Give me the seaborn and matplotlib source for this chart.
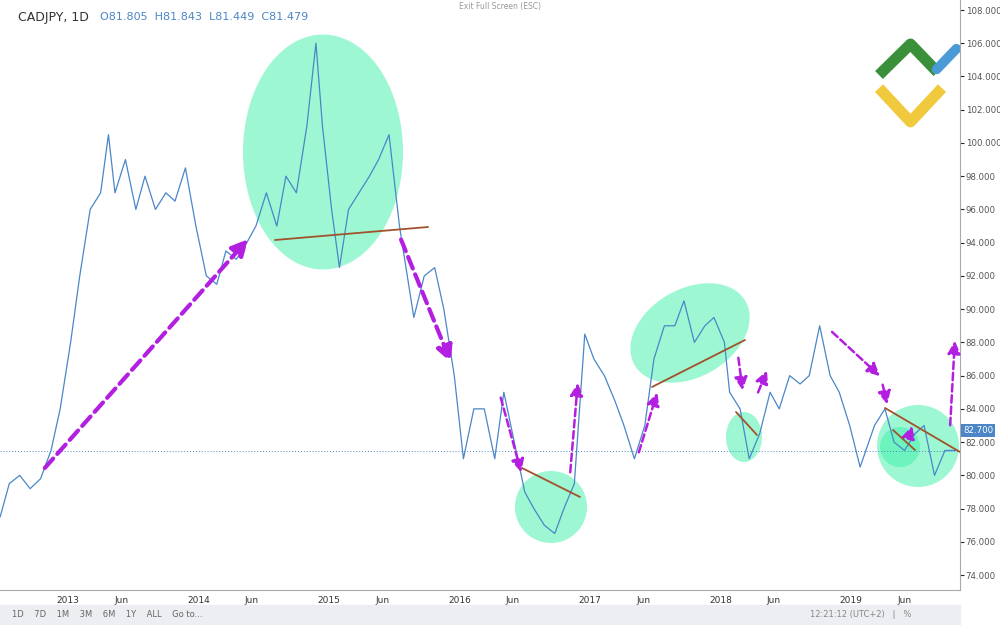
import matplotlib.pyplot as plt
import numpy as np
import seaborn as sns
import pandas as pd

# approximate CADJPY daily-close path (decimal year, price)
years = [2012.48, 2012.55, 2012.63, 2012.71, 2012.79, 2012.87, 2012.94, 2013.02, 2013.09, 2013.17, 2013.25, 2013.31,
         2013.36, 2013.44, 2013.52, 2013.59, 2013.67, 2013.75, 2013.82, 2013.90, 2013.98, 2014.06,
         2014.14, 2014.21, 2014.29, 2014.37, 2014.44, 2014.52, 2014.60, 2014.67, 2014.75, 2014.83,
         2014.90, 2014.95, 2015.02, 2015.08, 2015.15, 2015.23, 2015.31, 2015.38, 2015.46, 2015.54,
         2015.58, 2015.65, 2015.73, 2015.81, 2015.88, 2015.96, 2016.03, 2016.11, 2016.19, 2016.27,
         2016.34, 2016.42, 2016.50, 2016.57, 2016.65, 2016.73, 2016.80, 2016.88, 2016.96, 2017.03,
         2017.11, 2017.19, 2017.26, 2017.34, 2017.42, 2017.49, 2017.57, 2017.65, 2017.72, 2017.80,
         2017.88, 2017.95, 2018.03, 2018.07, 2018.15, 2018.22, 2018.30, 2018.38, 2018.45, 2018.53,
         2018.61, 2018.68, 2018.76, 2018.84, 2018.91, 2018.99, 2019.07, 2019.18, 2019.26, 2019.33,
         2019.41, 2019.49, 2019.56, 2019.64, 2019.72, 2019.80]
prices = [77.5, 79.5, 80.0, 79.2, 79.8, 81.5, 84.0, 88.0, 92.0, 96.0, 97.0, 100.5,
          97.0, 99.0, 96.0, 98.0, 96.0, 97.0, 96.5, 98.5, 95.0, 92.0,
          91.5, 93.5, 93.0, 94.0, 95.0, 97.0, 95.0, 98.0, 97.0, 101.0,
          106.0, 101.0, 96.0, 92.5, 96.0, 97.0, 98.0, 99.0, 100.5, 95.0,
          93.0, 89.5, 92.0, 92.5, 90.0, 86.0, 81.0, 84.0, 84.0, 81.0,
          85.0, 82.0, 79.0, 78.0, 77.0, 76.5, 78.0, 79.5, 88.5, 87.0,
          86.0, 84.5, 83.0, 81.0, 83.0, 87.0, 89.0, 89.0, 90.5, 88.0,
          89.0, 89.5, 88.0, 85.0, 84.0, 81.0, 82.5, 85.0, 84.0, 86.0,
          85.5, 86.0, 89.0, 86.0, 85.0, 83.0, 80.5, 83.0, 84.0, 82.0,
          81.5, 82.5, 83.0, 80.0, 81.5, 81.5]
tick_years = [2013, 2014, 2015, 2016, 2017, 2018, 2019]
price_ticks = list(range(74, 110, 2))
last_close = 81.479


def px(x, y):
    # screen pixel -> (year, price) for annotations
    return 2013 + (x - 68) / 130.5, 108 - (y - 10) / 16.62


sns.set_style("white")
fig = plt.figure(figsize=(10, 6.25), dpi=100)
ax = fig.add_axes([0, 35 / 625, 0.96, 590 / 625])

df = pd.DataFrame({"year": years, "price": prices})
sns.lineplot(data=df, x="year", y="price", ax=ax, color="#4a86c8", linewidth=0.9)

x0, _ = px(0, 0)
x1, _ = px(960, 0)
ax.set_xlim(x0, x1)
ax.set_ylim(px(0, 590)[1], px(0, 0)[1])
ax.set_xlabel("")
ax.set_ylabel("")

# ellipses (centre px, width px, height px, angle deg)
ells = [((323, 152), 160, 235, 0), ((690, 333), 128, 88, 30), ((744, 437), 36, 50, 0),
        ((551, 507), 72, 72, 0), ((918, 446), 82, 82, 0), ((900, 447), 40, 40, 0)]
t = np.linspace(0, 2 * np.pi, 100)
for (cx, cy), w, h, a in ells:
    r = np.radians(a)
    ex = w / 2 * np.cos(t)
    ey = h / 2 * np.sin(t)
    X = cx + ex * np.cos(r) + ey * np.sin(r)
    Y = cy - ex * np.sin(r) + ey * np.cos(r)
    xs, ys = px(X, Y)
    ax.fill(xs, ys, color="#3ef0a8", alpha=0.5, lw=0, zorder=0)

for (a, b, c, d) in [(275, 240, 428, 227), (652, 387, 745, 340), (522, 468, 580, 497),
                     (736, 412, 757, 435), (885, 408, 960, 452), (893, 430, 915, 450)]:
    p, q = px(a, b), px(c, d)
    ax.plot([p[0], q[0]], [p[1], q[1]], color="#a0522d", lw=1.3, zorder=3)

arrows = [(43, 470, 250, 237, 3), (400, 237, 452, 365, 3), (500, 395, 522, 475, 1.8),
          (570, 475, 578, 380, 1.8), (638, 455, 658, 390, 1.8), (738, 355, 743, 393, 1.8),
          (757, 395, 768, 368, 1.8), (830, 330, 882, 378, 1.8), (882, 382, 888, 407, 1.8),
          (908, 440, 913, 423, 1.8), (950, 428, 955, 338, 1.8)]
for a, b, c, d, lw in arrows:
    ax.annotate("", xy=px(c, d), xytext=px(a, b),
                arrowprops=dict(arrowstyle="-|>", color="#b21fe0", lw=lw, ls=(0, (3, 1.5)),
                                mutation_scale=12 + 4 * lw), zorder=4)

ax.axhline(last_close, color="#4a86c8", lw=0.7, ls=(0, (1, 2)))

ax.set_xticks(tick_years + [y + 0.41 for y in tick_years])
ax.set_xticklabels([str(y) for y in tick_years] + ["Jun"] * len(tick_years), fontsize=6.5, color="#333")
ax.tick_params(axis="x", length=3, pad=1)
ax.yaxis.tick_right()
ax.set_yticks(price_ticks)
ax.set_yticklabels([f"{v:.3f}" for v in price_ticks], fontsize=6.2, color="#555")
ax.tick_params(axis="y", length=3, pad=1)
for s in ["top", "left"]:
    ax.spines[s].set_visible(False)
for s in ["right", "bottom"]:
    ax.spines[s].set_color("#aaa")

ax.text(1.003, 82.7, "82.700", transform=ax.get_yaxis_transform(), fontsize=6.2, color="white",
        va="center", bbox=dict(boxstyle="square,pad=0.2", fc="#4a86c8", ec="none"))

fig.text(0.018, 0.972, "CADJPY, 1D", fontsize=9, color="#333", va="center")
fig.text(0.1, 0.972, "O81.805  H81.843  L81.449  C81.479", fontsize=8, color="#4a86c8", va="center")
fig.text(0.5, 0.997, "Exit Full Screen (ESC)", fontsize=5.5, color="#999", ha="center", va="top")

# toolbar
fig.patches.append(plt.Rectangle((0, 0), 0.96, 20 / 625, transform=fig.transFigure, color="#eceef2"))
fig.text(0.012, 0.017, "1D    7D    1M    3M    6M    1Y    ALL    Go to...", fontsize=6, color="#666", va="center")
fig.text(0.81, 0.017, "12:21:12 (UTC+2)   |   %", fontsize=6, color="#888", va="center")

# logo
lg = fig.add_axes([0.87, 0.79, 0.09, 0.15])
lg.axis("off")
lg.set_xlim(0, 10)
lg.set_ylim(0, 10)
lg.plot([1.0, 4.5, 7.5], [6.0, 9.3, 6.3], color="#3a8f3a", lw=8, solid_capstyle="butt")
lg.plot([7.4, 9.6], [6.6, 8.8], color="#4a9ad8", lw=7, solid_capstyle="round")
lg.plot([1.0, 4.5, 8.0], [4.6, 1.0, 4.6], color="#f0c93c", lw=8, solid_capstyle="butt")

fig.savefig("out.png", dpi=100)
